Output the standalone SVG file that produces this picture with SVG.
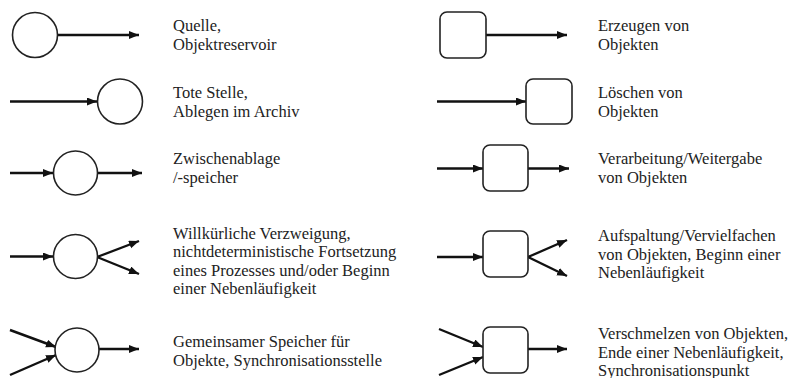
<svg xmlns="http://www.w3.org/2000/svg" width="793" height="378" viewBox="0 0 793 378">
<style>
.n{fill:#fff;stroke:#222;stroke-width:1.6}
.c line{stroke:#111;stroke-width:2.4;marker-end:url(#ah)}
text{font-family:"Liberation Serif","Times New Roman",serif;font-size:16.5px;fill:#222}
</style>
<defs>
<marker id="ah" markerUnits="userSpaceOnUse" markerWidth="11" markerHeight="9" refX="10" refY="4" orient="auto">
<path d="M0,0 L10,4 L0,8 z" fill="#111"/>
</marker>
</defs>
<rect width="793" height="378" fill="#fff"/>
<g id="connectors" class="c">
<line x1="57" y1="35" x2="139" y2="35"/>
<line x1="10" y1="101.5" x2="97" y2="101.5"/>
<line x1="10" y1="173" x2="53" y2="173"/>
<line x1="97" y1="173" x2="142" y2="173"/>
<line x1="10" y1="256.5" x2="53" y2="256.5"/>
<line x1="97" y1="257" x2="139" y2="241"/>
<line x1="97" y1="257" x2="139" y2="274"/>
<line x1="10" y1="330" x2="56" y2="347"/>
<line x1="10" y1="375" x2="56" y2="355"/>
<line x1="99" y1="349" x2="139" y2="349"/>
<line x1="486" y1="35" x2="567" y2="35"/>
<line x1="437" y1="101.5" x2="526" y2="101.5"/>
<line x1="437" y1="168.5" x2="483" y2="168.5"/>
<line x1="528" y1="168.5" x2="569" y2="168.5"/>
<line x1="437" y1="257" x2="483" y2="257"/>
<line x1="528" y1="257" x2="567" y2="240"/>
<line x1="528" y1="257" x2="567" y2="276"/>
<line x1="439" y1="329" x2="483" y2="347"/>
<line x1="439" y1="375" x2="483" y2="357"/>
<line x1="528" y1="349" x2="567" y2="349"/>
</g>
<g id="quelle"><circle class="n" cx="35" cy="35" r="22.5"/>
<text x="173" y="31">Quelle,</text>
<text x="173" y="50">Objektreservoir</text></g>
<g id="tote-stelle"><circle class="n" cx="120" cy="101.5" r="22.5"/>
<text x="173" y="97.5">Tote Stelle,</text>
<text x="173" y="117">Ablegen im Archiv</text></g>
<g id="zwischenablage"><circle class="n" cx="75.5" cy="173" r="22"/>
<text x="173" y="164">Zwischenablage</text>
<text x="173" y="183">/-speicher</text></g>
<g id="verzweigung"><circle class="n" cx="75.5" cy="256.5" r="22"/>
<text x="173" y="238.5">Willkürliche Verzweigung,</text>
<text x="173" y="257">nichtdeterministische Fortsetzung</text>
<text x="173" y="275.5">eines Prozesses und/oder Beginn</text>
<text x="173" y="294">einer Nebenläufigkeit</text></g>
<g id="speicher"><circle class="n" cx="77" cy="350" r="22"/>
<text x="173" y="347">Gemeinsamer Speicher für</text>
<text x="173" y="366">Objekte, Synchronisationsstelle</text></g>
<g id="erzeugen"><rect class="n" x="440" y="12" width="46" height="46" rx="7"/>
<text x="598" y="31">Erzeugen von</text>
<text x="598" y="50">Objekten</text></g>
<g id="loeschen"><rect class="n" x="526" y="79" width="46" height="45" rx="7"/>
<text x="598" y="97.5">Löschen von</text>
<text x="598" y="117">Objekten</text></g>
<g id="verarbeitung"><rect class="n" x="483" y="145" width="45" height="46" rx="7"/>
<text x="598" y="163.5">Verarbeitung/Weitergabe</text>
<text x="598" y="183">von Objekten</text></g>
<g id="aufspaltung"><rect class="n" x="483" y="231" width="45" height="46" rx="7"/>
<text x="598" y="241">Aufspaltung/Vervielfachen</text>
<text x="598" y="259.5">von Objekten, Beginn einer</text>
<text x="598" y="278">Nebenläufigkeit</text></g>
<g id="verschmelzen"><rect class="n" x="483" y="327" width="45" height="46" rx="7"/>
<text x="598" y="339">Verschmelzen von Objekten,</text>
<text x="598" y="358">Ende einer Nebenläufigkeit,</text>
<text x="598" y="375.5">Synchronisationspunkt</text></g>
</svg>
